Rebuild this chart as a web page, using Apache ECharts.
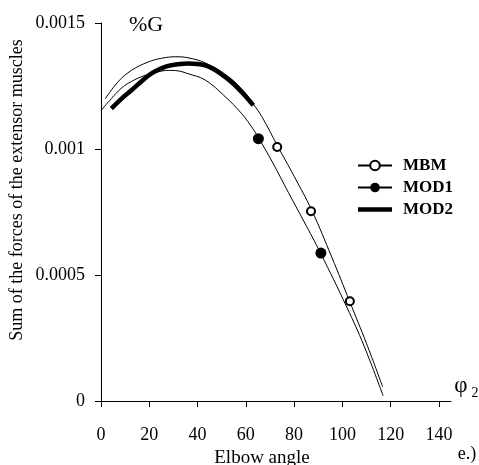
<!DOCTYPE html>
<html>
<head>
<meta charset="utf-8">
<script src="https://cdn.jsdelivr.net/npm/echarts@6/dist/echarts.min.js"></script>
<style>
  html, body { margin: 0; padding: 0; background: #fff; }
  #chart { width: 479px; height: 465px; }
</style>
</head>
<body>
<div id="chart"></div>
<script>
// Axis ticks
const xTicks = [0, 20, 40, 60, 80, 100, 120, 140];
const yTicks = [0, 0.0005, 0.001, 0.0015];

// MBM fitted curve (elbow angle, force sum)
const mbmFitX = [1.8, 7.0, 12.6, 19.5, 25, 31, 36, 43.1, 51.4, 58.3, 63.1, 66.6, 73.2, 80, 87.3, 95.6, 103.1, 110, 116.7];
const mbmFitY = [0.00120, 0.001266, 0.001312, 0.001345, 0.00136, 0.001366, 0.001362, 0.001342, 0.001297, 0.001238, 0.001178, 0.001129, 0.001011, 0.000892, 0.000757, 0.000571, 0.000393, 0.000228, 0.000056];

// MOD1 fitted curve
const mod1FitX = [0, 4.3, 8.3, 12.6, 18.2, 23.6, 27.8, 31.9, 36, 43.1, 51.4, 58.3, 63.1, 65.2, 71, 77.6, 84, 90.9, 101.8, 109, 116.9];
const mod1FitY = [0.001152, 0.00120, 0.00124, 0.001268, 0.001292, 0.001306, 0.001312, 0.00131, 0.001299, 0.001274, 0.001208, 0.00114, 0.001078, 0.001045, 0.000948, 0.000828, 0.000714, 0.000588, 0.000373, 0.000218, 0.00002];

// MOD2 curve
const mod2X = [4.3, 8.3, 12.6, 16.7, 20.8, 25, 29.1, 36, 43.1, 51.4, 58.3, 63.1];
const mod2Y = [0.00116, 0.001198, 0.001233, 0.001268, 0.001299, 0.00132, 0.001332, 0.001339, 0.001332, 0.001286, 0.001226, 0.001173];

// Measured points
const mbmX = [73.0, 87.0, 103.1];
const mbmY = [0.001008, 0.000753, 0.000396];
const mod1X = [65.2, 91.1];
const mod1Y = [0.001041, 0.000587];

const pairs = (xs, ys) => xs.map((x, i) => [x, ys[i]]);
const serif = '"Liberation Serif", "Times New Roman", serif';

const chart = echarts.init(document.getElementById('chart'), null, { renderer: 'canvas' });

const axisCommon = {
  type: 'value',
  axisLine: { show: true, lineStyle: { color: '#000', width: 1 } },
  axisTick: { show: true, inside: false, length: 6, lineStyle: { color: '#000', width: 1 } },
  splitLine: { show: false }
};

chart.setOption({
  animation: false,
  backgroundColor: '#fff',
  grid: { left: 101, right: 28, top: 23, bottom: 64 },
  xAxis: Object.assign({}, axisCommon, {
    min: 0, max: 145,
    axisTick: Object.assign({}, axisCommon.axisTick, { customValues: xTicks }),
    axisLabel: { customValues: xTicks, margin: 25, color: '#000', fontFamily: serif, fontSize: 18 }
  }),
  yAxis: Object.assign({}, axisCommon, {
    min: 0, max: 0.0015,
    axisTick: Object.assign({}, axisCommon.axisTick, { customValues: yTicks }),
    axisLabel: { customValues: yTicks, margin: 16, color: '#000', fontFamily: serif, fontSize: 18,
      formatter: v => String(v) }
  }),
  legend: {
    orient: 'vertical', left: 357, top: 157, padding: 0,
    itemWidth: 34, itemHeight: 12, itemGap: 5,
    selectedMode: false,
    data: [
      { name: 'MBM' },
      { name: 'MOD1' },
      { name: 'MOD2', icon: 'path://M0 0H34V4.5H0Z' }
    ],
    textStyle: { fontFamily: serif, fontWeight: 'bold', fontSize: 17, color: '#000', padding: [0, 0, 0, 6] }
  },
  series: [
    {
      name: 'MBM', type: 'line', data: pairs(mbmFitX, mbmFitY),
      smooth: 0.4,
      symbol: 'circle', showSymbol: false,
      lineStyle: { color: '#000', width: 1 },
      itemStyle: { color: '#fff', borderColor: '#000', borderWidth: 2 },
      z: 2
    },
    {
      name: 'MOD1', type: 'line', data: pairs(mod1FitX, mod1FitY),
      smooth: 0.4,
      symbol: 'circle', showSymbol: false,
      lineStyle: { color: '#000', width: 1 },
      itemStyle: { color: '#000' },
      z: 2
    },
    {
      name: 'MOD2', type: 'line', data: pairs(mod2X, mod2Y),
      smooth: 0.4,
      symbol: 'none',
      lineStyle: { color: '#000', width: 4.5, cap: 'butt' },
      itemStyle: { color: '#000' },
      z: 3
    },
    {
      name: 'MBM', type: 'scatter', data: pairs(mbmX, mbmY),
      symbol: 'circle', symbolSize: 8,
      itemStyle: { color: '#fff', borderColor: '#000', borderWidth: 2, opacity: 1 },
      z: 5
    },
    {
      name: 'MOD1', type: 'scatter', data: pairs(mod1X, mod1Y),
      symbol: 'circle', symbolSize: 11,
      itemStyle: { color: '#000', opacity: 1 },
      z: 5
    }
  ],
  graphic: [
    { type: 'text', x: 146, y: 25,
      style: { text: '%G', font: '22px ' + serif, fill: '#000', align: 'center', verticalAlign: 'middle' } },
    { type: 'text', x: 17, y: 190, rotation: Math.PI / 2,
      style: { text: 'Sum of the forces of the extensor muscles', font: '18px ' + serif, fill: '#000',
        align: 'center', verticalAlign: 'middle' } },
    { type: 'text', x: 262, y: 458,
      style: { text: 'Elbow angle', font: '19px ' + serif, fill: '#000', align: 'center', verticalAlign: 'middle' } },
    { type: 'text', x: 461, y: 386,
      style: { text: 'φ', font: '23px ' + serif, fill: '#000', align: 'center', verticalAlign: 'middle' } },
    { type: 'text', x: 475, y: 393,
      style: { text: '2', font: '14px ' + serif, fill: '#000', align: 'center', verticalAlign: 'middle' } },
    { type: 'text', x: 467, y: 454,
      style: { text: 'e.)', font: '18px ' + serif, fill: '#000', align: 'center', verticalAlign: 'middle' } }
  ]
});
</script>
</body>
</html>
